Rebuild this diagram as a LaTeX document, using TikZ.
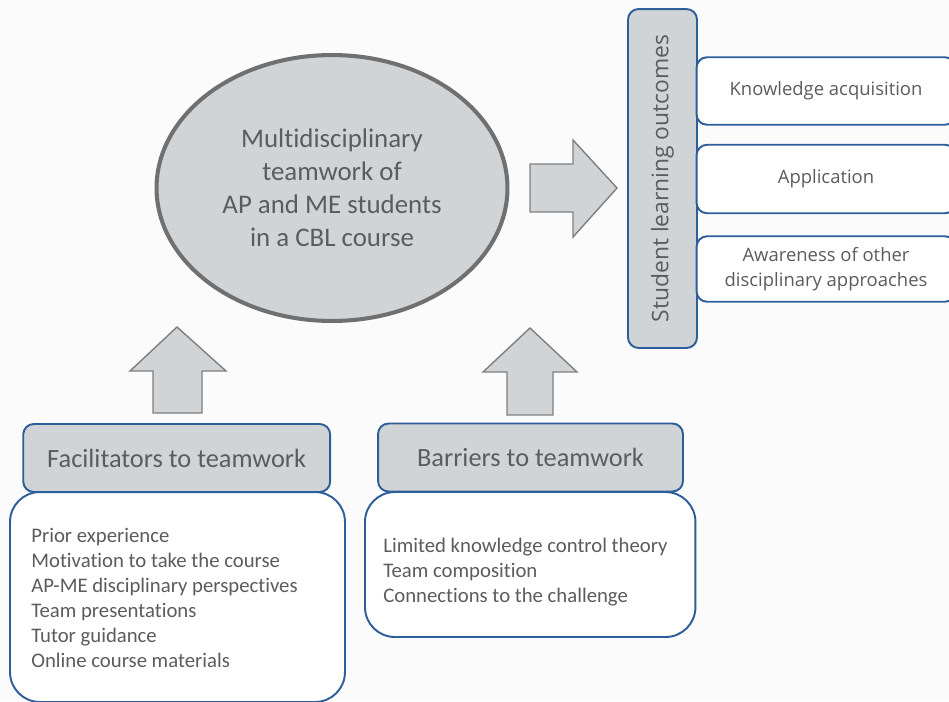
\documentclass[tikz,border=0pt]{standalone}
\usepackage{fontspec}
\setmainfont{Carlito}[Ligatures=NoCommon]
\newfontfamily\opensans{Open Sans}
\usetikzlibrary{shapes.geometric}

\definecolor{grisrelleno}{HTML}{D1D4D7}
\definecolor{grisborde}{HTML}{707070}
\definecolor{grisflecha}{HTML}{7F7F7F}
\definecolor{azulborde}{HTML}{2E5E9A}
\definecolor{gristexto}{HTML}{5C5C5C}
\definecolor{fondo}{HTML}{FBFBFB}

\tikzset{
  equipo/.style={ellipse, draw=grisborde, line width=2.3pt, fill=grisrelleno,
    minimum width=7.02cm, minimum height=5.32cm, inner sep=0pt, align=center,
    font=\fontsize{15.3}{18.8}\selectfont},
  flecha/.style={draw=grisflecha, line width=0.8pt, fill=grisrelleno},
  resultados/.style={draw=azulborde, line width=1.1pt, fill=grisrelleno,
    rounded corners=6pt, rotate=90, minimum width=6.78cm, minimum height=1.38cm,
    inner sep=0pt, font=\opensans\fontsize{13}{15}\selectfont},
  resultado/.style={draw=azulborde, line width=1.1pt, fill=white,
    rounded corners=6pt, minimum width=5.18cm, minimum height=1.35cm,
    inner sep=0pt, align=center, font=\opensans\fontsize{10.5}{14.2}\selectfont},
  cabecera/.style={draw=azulborde, line width=1.1pt, fill=grisrelleno,
    rounded corners=6pt, minimum width=6.12cm, minimum height=1.36cm,
    inner sep=0pt, font=\fontsize{15}{18}\selectfont},
  lista/.style={draw=azulborde, line width=1.1pt, fill=white,
    rounded corners=17pt, inner sep=0pt},
  texto/.style={anchor=west, align=left, inner sep=0pt,
    font=\fontsize{11.8}{14.2}\selectfont}
}

\begin{document}
\begin{tikzpicture}[x=0.02cm, y=-0.02cm, every node/.append style={text=gristexto}]

    % Fondo
    \fill[fondo] (0,0) rectangle (949,701);
    \useasboundingbox (0,0) rectangle (949,701);

    % Elipse central
    \node[equipo] (equipo) at (332,188)
      {Multidisciplinary\\teamwork of\\AP and ME students\\in a CBL course};

    % Flechas
    \draw[flecha] (530,164) -- (573,164) -- (573,140) -- (617,188)
      -- (573,237) -- (573,212) -- (530,212) -- cycle;
    \draw[flecha] (153,413) -- (153,371) -- (130,371) -- (177,327)
      -- (226,371) -- (202,371) -- (202,413) -- cycle;
    \draw[flecha] (507,415) -- (507,372) -- (483,372) -- (530,328)
      -- (577,372) -- (553,372) -- (553,415) -- cycle;

    % Resultados de aprendizaje
    \node[resultados] (resultados) at (662.5,178.5) {Student learning outcomes};
    \node[resultado] (conocimiento) at (826,91) {Knowledge acquisition};
    \node[resultado, minimum height=1.37cm] (aplicacion) at (826,179) {Application};
    \node[resultado, minimum height=1.31cm] (conciencia) at (826,269)
      {Awareness of other\\disciplinary approaches};

    % Facilitadores
    \node[lista, minimum width=6.7cm, minimum height=4.2cm] (facLista) at (177.5,597) {};
    \node[cabecera, minimum width=6.14cm] (facilitadores) at (176.7,458) {Facilitators to teamwork};
    \node[texto] (facTexto) at (31,598)
      {Prior experience\\Motivation to take the course\\AP-ME disciplinary perspectives\\
       Team presentations\\Tutor guidance\\Online course materials};

    % Barreras
    \node[lista, minimum width=6.61cm, minimum height=2.9cm] (barLista) at (530.2,564.5) {};
    \node[cabecera, minimum width=6.1cm] (barreras) at (530.5,457.5) {Barriers to teamwork};
    \node[texto] (barTexto) at (383,572)
      {Limited knowledge control theory\\Team composition\\Connections to the challenge};

  \end{tikzpicture}
\end{document}
